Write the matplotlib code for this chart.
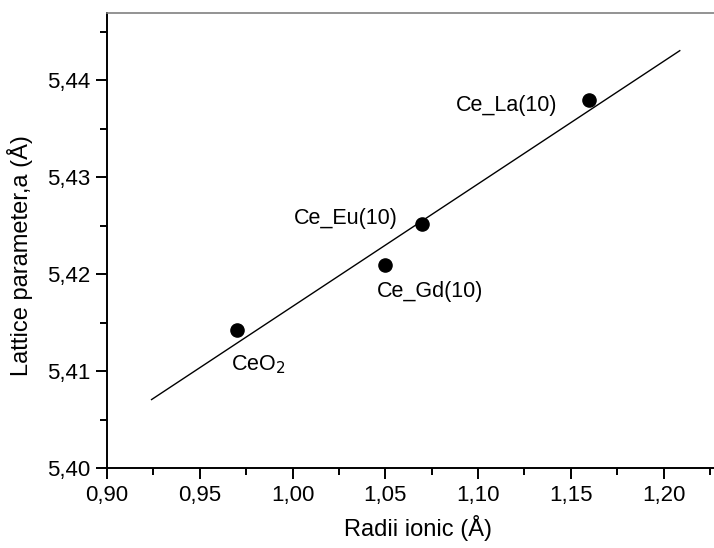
import numpy as np
import matplotlib
matplotlib.use("Agg")
import matplotlib.pyplot as plt
from matplotlib.ticker import MultipleLocator, FuncFormatter

plt.rcParams["font.family"] = ["Liberation Sans", "DejaVu Sans"]

# data
radii = [0.97, 1.05, 1.07, 1.16]
lattice = [5.41423, 5.42096, 5.42518, 5.43796]
labels = ["CeO$_2$", "Ce_Gd(10)", "Ce_Eu(10)", "Ce_La(10)"]
fit_range = [0.924, 1.2087]

# label offsets in points (dx, dy) and alignment
label_offsets = [(-4, -25), (-6, -19), (-18, 4), (-23, -4)]
label_ha = ["left", "left", "right", "right"]

fig = plt.figure(figsize=(7.14, 5.48), dpi=100)
ax = fig.add_axes([0.1499, 0.146, 0.851, 0.8309])

# linear fit
coef = np.polyfit(radii, lattice, 1)
xf = np.array(fit_range)
ax.plot(xf, np.polyval(coef, xf), color="black", lw=1.0)

ax.scatter(radii, lattice, s=90, color="black", zorder=3)

for x, y, lab, off, ha in zip(radii, lattice, labels, label_offsets, label_ha):
    ax.annotate(lab, (x, y), xytext=off, textcoords="offset points",
                ha=ha, va="center", fontsize=15.5)

ax.set_xlim(0.90, 1.2275)
ax.set_ylim(5.40, 5.447)

ax.xaxis.set_major_locator(MultipleLocator(0.05))
ax.xaxis.set_minor_locator(MultipleLocator(0.025))
ax.yaxis.set_major_locator(MultipleLocator(0.01))
ax.yaxis.set_minor_locator(MultipleLocator(0.005))
ax.xaxis.set_major_formatter(FuncFormatter(lambda v, p: f"{v:.2f}".replace(".", ",")))
ax.yaxis.set_major_formatter(FuncFormatter(lambda v, p: f"{v:.2f}".replace(".", ",")))

ax.tick_params(which="major", direction="out", length=8, width=1.4,
               labelsize=16, pad=4)
ax.tick_params(which="minor", direction="out", length=5, width=1.4)
ax.tick_params(top=False, right=False)

ax.spines["right"].set_visible(False)
ax.spines["top"].set_color("#808080")
ax.spines["top"].set_linewidth(1.2)
ax.spines["left"].set_linewidth(1.4)
ax.spines["bottom"].set_linewidth(1.4)

ax.set_xlabel("Radii ionic (Å)", fontsize=17)
ax.set_ylabel("Lattice parameter,a (Å)", fontsize=17)
ax.xaxis.set_label_coords(0.511, -0.103)
ax.yaxis.set_label_coords(-0.1215, 0.467)

fig.savefig("out.png", dpi=100)
